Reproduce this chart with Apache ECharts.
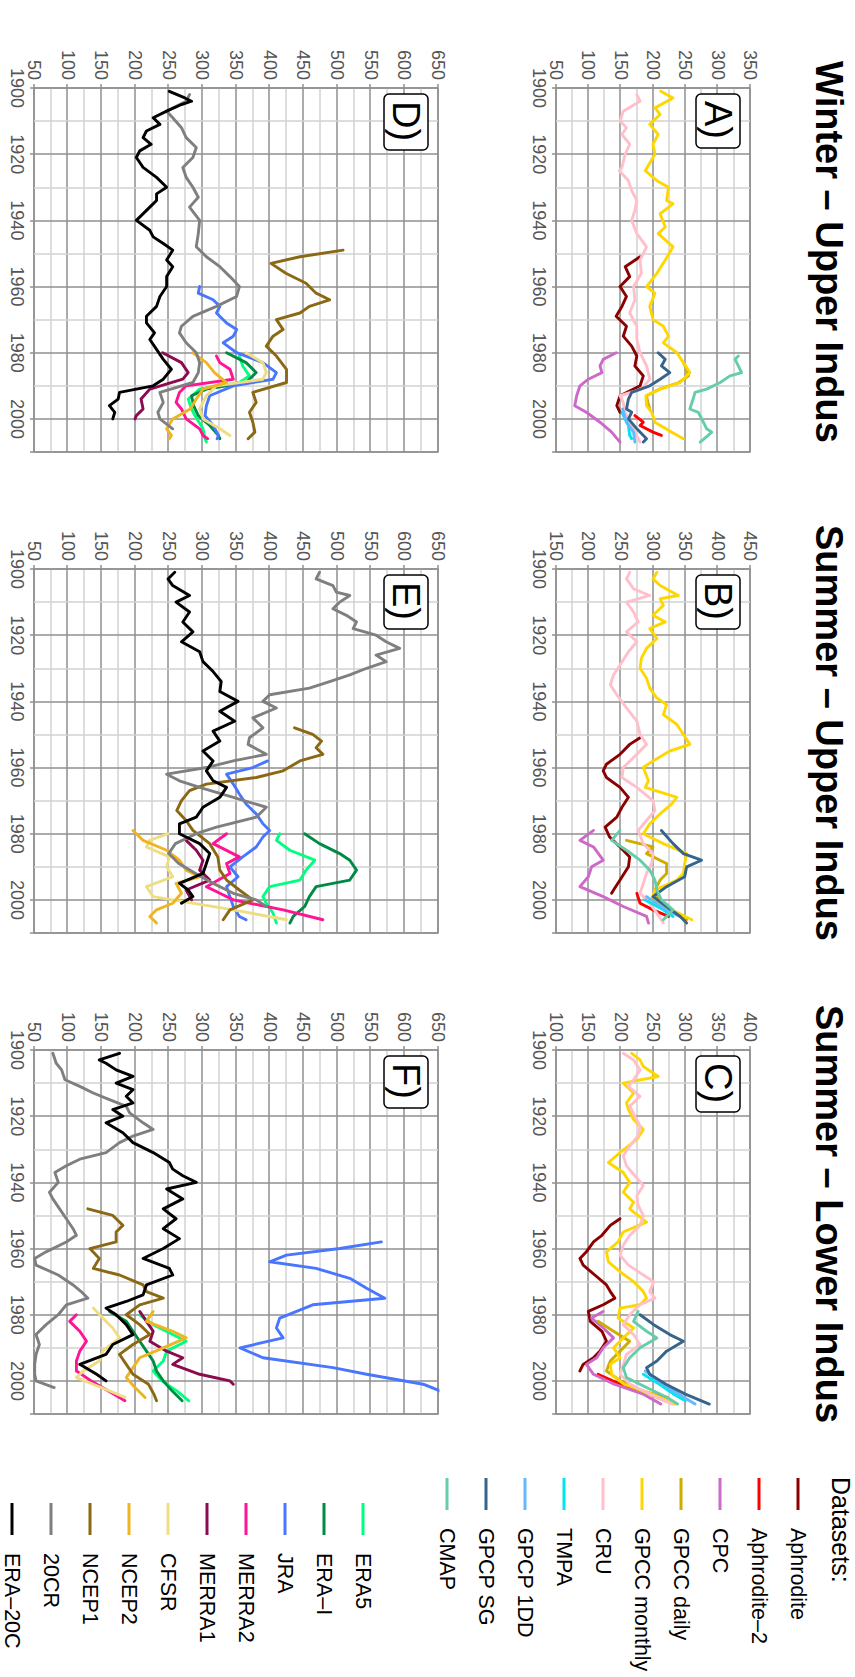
<!DOCTYPE html>
<html>
<head>
<meta charset="utf-8">
<title>Precipitation over the Indus basin</title>
<script src="https://cdn.jsdelivr.net/npm/echarts@6/dist/echarts.min.js"></script>
<style>
  html, body { margin: 0; padding: 0; background: #fff; overflow: hidden; }
  /* The figure is laid out landscape and turned a quarter clockwise onto the portrait page. */
  #main {
    position: absolute; left: 0; top: 0;
    width: 1677px; height: 855px;
    transform-origin: 0 0;
    transform: translate(855px, 0) rotate(90deg);
  }
</style>
</head>
<body>
<div id="main"></div>
<script>
// ---------- Data: [year, precipitation (mm)] ----------

// A) Winter – Upper Indus, observational products
const A_Aphrodite = [[1951,180],[1954,157],[1957,164],[1960,149],[1963,159],[1966,152],[1969,143],[1972,159],[1975,154],[1978,167],[1981,175],[1984,172],[1987,185],[1990,180],[1993,149],[1996,144],[1998,149]];
const A_Aphrodite2 = [[1999,172],[2001,185],[2002,180],[2004,200],[2005,213]];
const A_CPC = [[1980,143],[1982,123],[1984,118],[1986,121],[1988,100],[1990,87],[1993,82],[1996,79],[1998,97],[2001,118],[2004,136],[2007,149]];
const A_GPCCdaily = [[1983,247],[1985,252],[1987,255],[1989,240],[1991,210],[1993,190],[1995,192],[1997,195]];
const A_GPCCmonthly = [[1901,212],[1903,231],[1906,203],[1908,211],[1911,195],[1914,208],[1917,200],[1920,203],[1925,188],[1928,206],[1930,224],[1934,221],[1935,231],[1938,211],[1942,219],[1944,208],[1948,231],[1952,219],[1956,206],[1960,190],[1962,203],[1966,195],[1970,200],[1972,216],[1975,224],[1977,216],[1980,237],[1983,247],[1986,257],[1989,242],[1991,211],[1993,189],[1996,190],[1998,198],[2001,203],[2004,229],[2006,247]];
const A_CRU = [[1902,175],[1904,180],[1907,154],[1910,149],[1912,159],[1914,152],[1917,164],[1920,157],[1924,152],[1925,148],[1928,162],[1931,167],[1934,175],[1937,172],[1940,167],[1944,175],[1948,190],[1952,180],[1956,182],[1960,170],[1964,172],[1968,164],[1972,175],[1976,175],[1980,180],[1984,190],[1988,195],[1991,182],[1993,149],[1995,154],[1998,157],[2001,164],[2004,172],[2007,180]];
const A_TMPA = [[1998,152],[2002,162],[2005,164],[2006,167]];
const A_GPCP1DD = [[1997,153],[2001,159],[2004,170],[2007,172]];
const A_GPCPSG = [[1980,208],[1982,219],[1984,213],[1986,226],[1988,211],[1990,195],[1992,167],[1994,162],[1997,159],[1998,167],[2000,162],[2003,175],[2006,190],[2007,185]];
const A_CMAP = [[1981,332],[1982,327],[1984,332],[1986,337],[1987,319],[1989,304],[1991,283],[1992,265],[1994,262],[1997,257],[1998,270],[2001,278],[2003,283],[2004,291],[2007,273]];

// B) Summer – Upper Indus, observational products
const B_Aphrodite = [[1951,280],[1953,264],[1956,249],[1959,228],[1961,223],[1963,228],[1966,249],[1969,262],[1972,252],[1975,244],[1978,226],[1981,233],[1984,249],[1987,264],[1990,262],[1994,249],[1997,239],[1998,236]];
const B_Aphrodite2 = [[1998,275],[2001,280],[2003,300],[2005,324]];
const B_CPC = [[1979,208],[1982,187],[1984,208],[1988,223],[1990,205],[1993,200],[1996,187],[1999,223],[2002,254],[2005,290],[2007,293]];
const B_GPCCdaily = [[1982,259],[1984,300],[1986,290],[1989,321],[1992,321],[1994,311],[1997,303],[2000,308],[2003,329],[2006,352]];
const B_GPCCmonthly = [[1901,306],[1903,300],[1905,311],[1908,339],[1909,311],[1911,316],[1914,300],[1916,319],[1918,295],[1921,306],[1924,290],[1927,282],[1930,280],[1933,290],[1936,295],[1939,306],[1941,321],[1944,316],[1947,337],[1950,347],[1953,357],[1955,326],[1958,300],[1960,285],[1964,293],[1966,288],[1969,337],[1971,329],[1974,311],[1977,295],[1980,285],[1983,316],[1986,352],[1989,349],[1992,347],[1994,337],[1997,303],[2000,298],[2003,329],[2006,360]];
const B_CRU = [[1901,264],[1903,259],[1906,270],[1908,295],[1910,259],[1913,270],[1916,277],[1919,259],[1922,275],[1925,262],[1929,249],[1932,239],[1935,234],[1938,244],[1942,259],[1946,275],[1950,280],[1953,290],[1956,275],[1960,254],[1963,252],[1966,275],[1970,300],[1973,303],[1976,290],[1979,277],[1983,285],[1986,300],[1989,298],[1992,290],[1995,285],[1998,280],[2001,295],[2004,306],[2007,316]];
const B_TMPA = [[2000,288],[2003,316],[2005,331]];
const B_GPCP1DD = [[1999,290],[2003,321],[2005,342]];
const B_GPCPSG = [[1979,313],[1983,331],[1986,347],[1988,375],[1990,352],[1993,349],[1996,321],[1999,300],[2002,321],[2005,342],[2007,352]];
const B_CMAP = [[1979,249],[1982,236],[1985,259],[1988,280],[1991,295],[1994,303],[1997,306],[2000,313],[2003,331],[2006,316]];

// C) Summer – Lower Indus, observational products
const C_Aphrodite = [[1951,199],[1953,184],[1956,171],[1958,158],[1961,147],[1963,137],[1965,142],[1968,160],[1971,178],[1973,184],[1975,191],[1977,173],[1979,150],[1982,153],[1985,171],[1988,178],[1991,168],[1993,158],[1995,142],[1997,137]];
const C_Aphrodite2 = [[1998,165],[2001,200],[2004,250],[2005,272]];
const C_CPC = [[1979,173],[1981,155],[1984,173],[1987,189],[1990,173],[1993,163],[1995,147],[1998,158],[2001,190],[2004,235],[2007,262]];
const C_GPCCdaily = [[1982,165],[1985,189],[1988,214],[1991,199],[1994,184],[1997,178],[2000,200],[2003,232],[2006,268]];
const C_GPCCmonthly = [[1901,217],[1903,230],[1905,235],[1908,258],[1910,204],[1913,220],[1916,209],[1918,212],[1921,220],[1924,235],[1927,225],[1931,199],[1934,181],[1937,204],[1940,214],[1943,204],[1946,220],[1948,214],[1952,240],[1955,204],[1958,196],[1961,178],[1964,181],[1967,199],[1970,220],[1973,235],[1975,240],[1977,230],[1978,199],[1981,196],[1984,220],[1987,204],[1990,189],[1993,199],[1995,184],[1998,186],[2001,205],[2004,250],[2007,285]];
const C_CRU = [[1901,204],[1903,220],[1906,230],[1909,220],[1911,212],[1914,230],[1917,214],[1920,222],[1923,230],[1926,227],[1929,214],[1932,204],[1935,209],[1938,222],[1941,235],[1944,225],[1947,227],[1950,235],[1953,230],[1956,214],[1959,204],[1962,199],[1965,212],[1968,235],[1970,251],[1973,245],[1975,253],[1977,230],[1980,214],[1983,204],[1986,220],[1989,230],[1992,209],[1995,204],[1998,199],[2001,215],[2004,245],[2007,280]];
const C_TMPA = [[1998,235],[2001,260],[2004,282],[2006,300]];
const C_GPCP1DD = [[1997,238],[2001,265],[2004,290],[2007,315]];
const C_GPCPSG = [[1980,230],[1983,251],[1986,276],[1988,297],[1991,271],[1994,256],[1996,240],[1998,245],[2001,270],[2004,300],[2007,337]];
const C_CMAP = [[1979,227],[1982,220],[1985,240],[1987,256],[1990,230],[1993,214],[1996,204],[1999,209],[2002,240],[2005,272],[2007,288]];

// D) Winter – Upper Indus, reanalyses
const D_ERA5 = [[1981,355],[1984,360],[1987,370],[1989,355],[1991,296],[1994,279],[1997,284],[1999,289],[2003,301],[2006,304],[2007,306]];
const D_ERAI = [[1980,336],[1983,365],[1986,380],[1989,365],[1991,306],[1993,284],[1996,287],[1999,294],[2002,311],[2005,324],[2006,326]];
const D_JRA = [[1960,296],[1962,294],[1964,316],[1966,326],[1968,321],[1971,336],[1973,351],[1975,346],[1977,331],[1980,351],[1983,390],[1986,410],[1988,405],[1990,346],[1993,311],[1996,306],[1999,304],[2002,316],[2005,324],[2006,322]];
const D_MERRA2 = [[1981,321],[1983,326],[1985,341],[1988,346],[1990,276],[1992,266],[1995,261],[1997,269],[2000,276],[2003,296],[2005,301],[2006,308]];
const D_MERRA1 = [[1980,241],[1983,269],[1986,279],[1988,271],[1991,222],[1994,209],[1997,212],[1999,202],[2000,200]];
const D_CFSR = [[1980,365],[1983,390],[1986,395],[1988,390],[1990,321],[1993,306],[1997,296],[2000,301],[2003,326],[2005,341]];
const D_NCEP2 = [[1980,286],[1983,306],[1986,318],[1989,336],[1991,301],[1994,291],[1997,282],[2000,256],[2003,247],[2005,254],[2006,251]];
const D_NCEP1 = [[1949,509],[1951,445],[1953,402],[1956,424],[1959,454],[1962,469],[1964,489],[1966,459],[1968,445],[1970,410],[1973,420],[1975,405],[1978,395],[1981,410],[1985,425],[1989,425],[1992,375],[1995,380],[1998,370],[2001,375],[2004,378],[2006,368]];
const D_20CR = [[1902,281],[1904,276],[1907,247],[1909,256],[1912,269],[1915,276],[1918,291],[1921,286],[1924,271],[1927,276],[1930,286],[1933,294],[1936,281],[1940,296],[1944,294],[1948,291],[1951,306],[1954,326],[1957,341],[1960,355],[1963,351],[1966,321],[1969,286],[1972,269],[1974,266],[1977,276],[1980,291],[1983,296],[1986,294],[1989,286],[1992,237],[1995,242],[1998,234],[2000,237],[2003,256]];
const D_ERA20C = [[1901,251],[1903,274],[1904,284],[1905,269],[1907,247],[1909,227],[1911,237],[1913,217],[1915,212],[1917,224],[1919,207],[1921,202],[1924,212],[1927,232],[1930,247],[1932,232],[1934,232],[1936,222],[1940,202],[1943,222],[1945,227],[1947,242],[1949,256],[1952,247],[1954,256],[1957,247],[1960,247],[1963,237],[1966,232],[1969,217],[1971,217],[1974,229],[1976,222],[1979,232],[1982,242],[1985,254],[1988,242],[1990,227],[1992,177],[1994,175],[1996,162],[1998,170],[2000,167]];

// E) Summer – Upper Indus, reanalyses
const E_ERA5 = [[1980,415],[1982,410],[1985,430],[1988,467],[1991,454],[1994,445],[1996,400],[1999,390],[2001,395],[2004,405],[2007,410]];
const E_ERAI = [[1980,452],[1983,474],[1986,504],[1988,519],[1991,529],[1994,519],[1996,469],[1999,459],[2002,452],[2005,435],[2007,430]];
const E_JRA = [[1958,397],[1960,375],[1962,336],[1965,346],[1968,355],[1971,365],[1974,380],[1977,390],[1979,400],[1981,390],[1984,380],[1987,360],[1990,341],[1993,353],[1996,336],[1999,341],[2002,346],[2005,355],[2006,365]];
const E_MERRA2 = [[1980,336],[1983,316],[1987,355],[1989,336],[1992,341],[1996,306],[1998,326],[2000,346],[2003,420],[2006,479]];
const E_MERRA1 = [[1982,276],[1985,291],[1988,301],[1991,296],[1994,311],[1997,276],[2000,284]];
const E_CFSR = [[1980,249],[1982,222],[1984,217],[1987,251],[1990,247],[1993,256],[1996,217],[1999,227],[2000,256],[2003,346],[2006,425]];
const E_NCEP2 = [[1979,197],[1982,212],[1985,247],[1988,266],[1991,276],[1993,296],[1995,261],[1998,269],[2001,256],[2003,232],[2005,222],[2007,232]];
const E_NCEP1 = [[1948,437],[1950,464],[1952,477],[1954,469],[1956,479],[1958,445],[1961,420],[1963,380],[1965,306],[1967,281],[1970,269],[1973,262],[1976,276],[1979,286],[1983,311],[1987,323],[1991,326],[1994,336],[1997,355],[2000,375],[2003,341],[2006,331]];
const E_20CR = [[1901,474],[1903,469],[1905,494],[1907,499],[1908,519],[1910,504],[1912,494],[1914,514],[1916,529],[1918,524],[1920,558],[1922,573],[1924,593],[1926,558],[1928,573],[1930,544],[1932,519],[1934,489],[1936,459],[1938,400],[1940,390],[1942,410],[1945,375],[1948,390],[1951,370],[1953,368],[1956,395],[1958,346],[1960,306],[1962,247],[1964,266],[1966,296],[1969,346],[1972,395],[1975,380],[1978,321],[1980,291],[1983,260],[1986,250],[1989,265],[1992,290],[1995,316],[1998,346],[2000,380],[2002,395]];
const E_ERA20C = [[1901,259],[1903,249],[1905,256],[1908,281],[1910,261],[1913,281],[1916,271],[1919,286],[1922,269],[1925,296],[1928,301],[1931,316],[1934,328],[1937,326],[1940,353],[1943,326],[1946,348],[1949,316],[1952,326],[1955,301],[1958,316],[1961,306],[1964,316],[1966,336],[1969,326],[1972,301],[1975,291],[1977,266],[1980,266],[1983,296],[1986,311],[1989,306],[1992,301],[1995,266],[1997,279],[1999,286],[2001,269]];

// F) Summer – Lower Indus, reanalyses
const F_ERA5 = [[1980,207],[1983,227],[1986,256],[1988,276],[1991,247],[1994,242],[1997,227],[2000,240],[2003,262],[2006,280]];
const F_ERAI = [[1979,162],[1982,187],[1985,197],[1988,207],[1991,217],[1994,227],[1997,232],[2000,242],[2003,255],[2006,270]];
const F_JRA = [[1958,566],[1960,504],[1962,425],[1964,400],[1966,469],[1969,519],[1972,544],[1975,571],[1977,464],[1981,415],[1984,410],[1987,420],[1990,356],[1993,390],[1996,494],[1998,544],[2001,628],[2004,665]];
const F_MERRA2 = [[1980,113],[1982,103],[1985,118],[1988,128],[1991,118],[1994,113],[1997,113],[2000,135],[2003,160],[2006,185]];
const F_MERRA1 = [[1979,207],[1982,217],[1985,227],[1988,222],[1991,247],[1993,271],[1995,256],[1998,296],[2000,341],[2001,346]];
const F_CFSR = [[1978,138],[1981,152],[1984,167],[1987,177],[1991,152],[1994,147],[1997,123],[1999,113],[2002,150],[2005,185]];
const F_NCEP2 = [[1979,227],[1982,217],[1985,256],[1987,276],[1990,242],[1993,207],[1996,197],[1999,187],[2002,200],[2005,215]];
const F_NCEP1 = [[1948,130],[1950,167],[1953,182],[1955,172],[1958,172],[1960,133],[1963,147],[1966,138],[1968,177],[1971,212],[1973,217],[1975,242],[1977,207],[1980,187],[1983,207],[1986,222],[1989,197],[1992,177],[1995,187],[1998,197],[2001,220],[2004,228],[2006,232]];
const F_20CR = [[1901,78],[1904,83],[1906,91],[1909,96],[1911,118],[1913,138],[1915,162],[1917,187],[1919,192],[1922,212],[1924,227],[1926,197],[1928,177],[1931,157],[1933,118],[1935,98],[1937,81],[1940,86],[1943,73],[1945,78],[1948,88],[1951,98],[1954,108],[1956,113],[1958,98],[1961,68],[1963,51],[1965,53],[1968,86],[1971,108],[1973,120],[1975,130],[1977,98],[1980,86],[1983,68],[1986,53],[1989,58],[1992,53],[1995,51],[1998,51],[2000,53],[2002,80]];
const F_ERA20C = [[1901,177],[1903,147],[1904,157],[1906,172],[1908,197],[1910,172],[1912,197],[1914,187],[1916,197],[1918,167],[1920,182],[1922,157],[1925,182],[1928,197],[1931,227],[1934,251],[1936,256],[1938,271],[1940,291],[1942,247],[1945,271],[1948,242],[1951,261],[1954,242],[1957,266],[1960,242],[1963,212],[1966,251],[1968,256],[1971,217],[1974,212],[1976,187],[1978,157],[1980,172],[1983,187],[1986,197],[1989,167],[1992,157],[1995,118],[1998,143],[2000,157]];

// Dataset names (legend order) and panel titles
const obsNames = ['Aphrodite', 'Aphrodite–2', 'CPC', 'GPCC daily', 'GPCC monthly', 'CRU', 'TMPA', 'GPCP 1DD', 'GPCP SG', 'CMAP'];
const reaNames = ['ERA5', 'ERA–I', 'JRA', 'MERRA2', 'MERRA1', 'CFSR', 'NCEP2', 'NCEP1', '20CR', 'ERA–20C'];
const columnTitles = ['Winter – Upper Indus', 'Summer – Upper Indus', 'Summer – Lower Indus'];
const panelLetters = ['A)', 'B)', 'C)', 'D)', 'E)', 'F)'];
const valueRanges = [[50, 350], [150, 450], [100, 400], [50, 650], [50, 650], [50, 650]];

// ---------- Styling ----------
const COLORS = {
  'Aphrodite': '#8B0000', 'Aphrodite–2': '#FF0000', 'CPC': '#CD69C9', 'GPCC daily': '#CDAD00',
  'GPCC monthly': '#FFD700', 'CRU': '#FFC0CB', 'TMPA': '#00E5EE', 'GPCP 1DD': '#63B8FF',
  'GPCP SG': '#36648B', 'CMAP': '#66CDAA',
  'ERA5': '#00FF7F', 'ERA–I': '#008B45', 'JRA': '#4876FF', 'MERRA2': '#FF1493', 'MERRA1': '#8B0A50',
  'CFSR': '#EEDD82', 'NCEP2': '#EEB422', 'NCEP1': '#8B6914', '20CR': '#7F7F7F', 'ERA–20C': '#000000'
};
const FONT = '"Liberation Sans", Arial, Helvetica, sans-serif';
const MAJOR = '#8f8f8f';
const MINOR = '#d2d2d2';

const panelSeries = [
  [A_Aphrodite, A_Aphrodite2, A_CPC, A_GPCCdaily, A_GPCCmonthly, A_CRU, A_TMPA, A_GPCP1DD, A_GPCPSG, A_CMAP],
  [B_Aphrodite, B_Aphrodite2, B_CPC, B_GPCCdaily, B_GPCCmonthly, B_CRU, B_TMPA, B_GPCP1DD, B_GPCPSG, B_CMAP],
  [C_Aphrodite, C_Aphrodite2, C_CPC, C_GPCCdaily, C_GPCCmonthly, C_CRU, C_TMPA, C_GPCP1DD, C_GPCPSG, C_CMAP],
  [D_ERA5, D_ERAI, D_JRA, D_MERRA2, D_MERRA1, D_CFSR, D_NCEP2, D_NCEP1, D_20CR, D_ERA20C],
  [E_ERA5, E_ERAI, E_JRA, E_MERRA2, E_MERRA1, E_CFSR, E_NCEP2, E_NCEP1, E_20CR, E_ERA20C],
  [F_ERA5, F_ERAI, F_JRA, F_MERRA2, F_MERRA1, F_CFSR, F_NCEP2, F_NCEP1, F_20CR, F_ERA20C]
];

// Panel geometry (landscape layout, px)
const colLeft = [88, 569, 1050];
const rowTop = [105, 417];
const rowHeight = [194, 404];
const plotWidth = 364;

const grids = [], xAxes = [], yAxes = [], series = [], titles = [], graphics = [];

for (let p = 0; p < 6; p++) {
  const col = p % 3, row = Math.floor(p / 3);
  grids.push({
    left: colLeft[col], top: rowTop[row], width: plotWidth, height: rowHeight[row],
    show: true, borderColor: MAJOR, borderWidth: 1.5, backgroundColor: 'transparent'
  });
  const labelStyle = { color: '#555', fontSize: 18, fontFamily: FONT, margin: 8 };
  xAxes.push({
    type: 'value', gridIndex: p, min: 1900, max: 2010, interval: 20,
    axisLine: { show: false },
    axisTick: { show: true, length: 4, lineStyle: { color: MAJOR, width: 1.5 } },
    axisLabel: Object.assign({}, labelStyle, { formatter: v => (v < 2010 ? String(v) : '') }),
    splitLine: { show: true, lineStyle: { color: MAJOR, width: 1.5 } },
    minorTick: { show: false, splitNumber: 2 },
    minorSplitLine: { show: true, lineStyle: { color: MINOR, width: 1.5 } }
  });
  yAxes.push({
    type: 'value', gridIndex: p, min: valueRanges[p][0], max: valueRanges[p][1], interval: 50,
    axisLine: { show: false },
    axisTick: { show: true, length: 4, lineStyle: { color: MAJOR, width: 1.5 } },
    axisLabel: Object.assign({}, labelStyle),
    splitLine: { show: true, lineStyle: { color: MAJOR, width: 1.5 } },
    minorTick: { show: false, splitNumber: 2 },
    minorSplitLine: { show: true, lineStyle: { color: MINOR, width: 1.5 } }
  });
  const names = row === 0 ? obsNames : reaNames;
  panelSeries[p].forEach((data, k) => {
    series.push({
      type: 'line', name: names[k], xAxisIndex: p, yAxisIndex: p,
      data: data, showSymbol: false, symbol: 'none', clip: true,
      lineStyle: { color: COLORS[names[k]], width: 2.9, join: 'round', cap: 'round' },
      itemStyle: { color: COLORS[names[k]] },
      emphasis: { disabled: true }, silent: true
    });
  });
  // boxed panel letter
  titles.push({
    text: panelLetters[p], left: colLeft[col] + 6, top: rowTop[row] + 10,
    padding: [2, 9, 2, 7], borderColor: '#000', borderWidth: 1.5, borderRadius: 5,
    backgroundColor: '#fff',
    textStyle: { fontSize: 38, fontWeight: 'normal', color: '#000', fontFamily: FONT, lineHeight: 40 }
  });
}

// column headings
columnTitles.forEach((t, c) => {
  graphics.push({
    type: 'text', x: colLeft[c] + plotWidth / 2 - 18, y: 26,
    style: {
      text: t, fill: '#000', font: 'bold 38px ' + FONT,
      align: 'center', verticalAlign: 'middle', textAlign: 'center', textVerticalAlign: 'middle'
    }
  });
});
graphics.push({
  type: 'text', x: 1477, y: 14,
  style: {
    text: 'Datasets:', fill: '#000', font: '25px ' + FONT,
    align: 'left', verticalAlign: 'middle', textAlign: 'left', textVerticalAlign: 'middle'
  }
});

const legendCommon = {
  orient: 'vertical', icon: 'rect', itemWidth: 32, itemHeight: 3, itemGap: 17, padding: 0,
  selectedMode: false, inactiveColor: '#000',
  textStyle: { fontSize: 21.5, color: '#000', fontFamily: FONT, lineHeight: 22, padding: [0, 0, 0, 13] }
};

const option = {
  animation: false,
  backgroundColor: '#fff',
  grid: grids,
  xAxis: xAxes,
  yAxis: yAxes,
  title: titles,
  legend: [
    Object.assign({}, legendCommon, { data: obsNames, left: 1478, top: 46 }),
    Object.assign({}, legendCommon, { data: reaNames, left: 1503, top: 481 })
  ],
  graphic: graphics,
  series: series
};

const chart = echarts.init(document.getElementById('main'), null, { renderer: 'svg', width: 1677, height: 855 });
chart.setOption(option);
</script>
</body>
</html>
